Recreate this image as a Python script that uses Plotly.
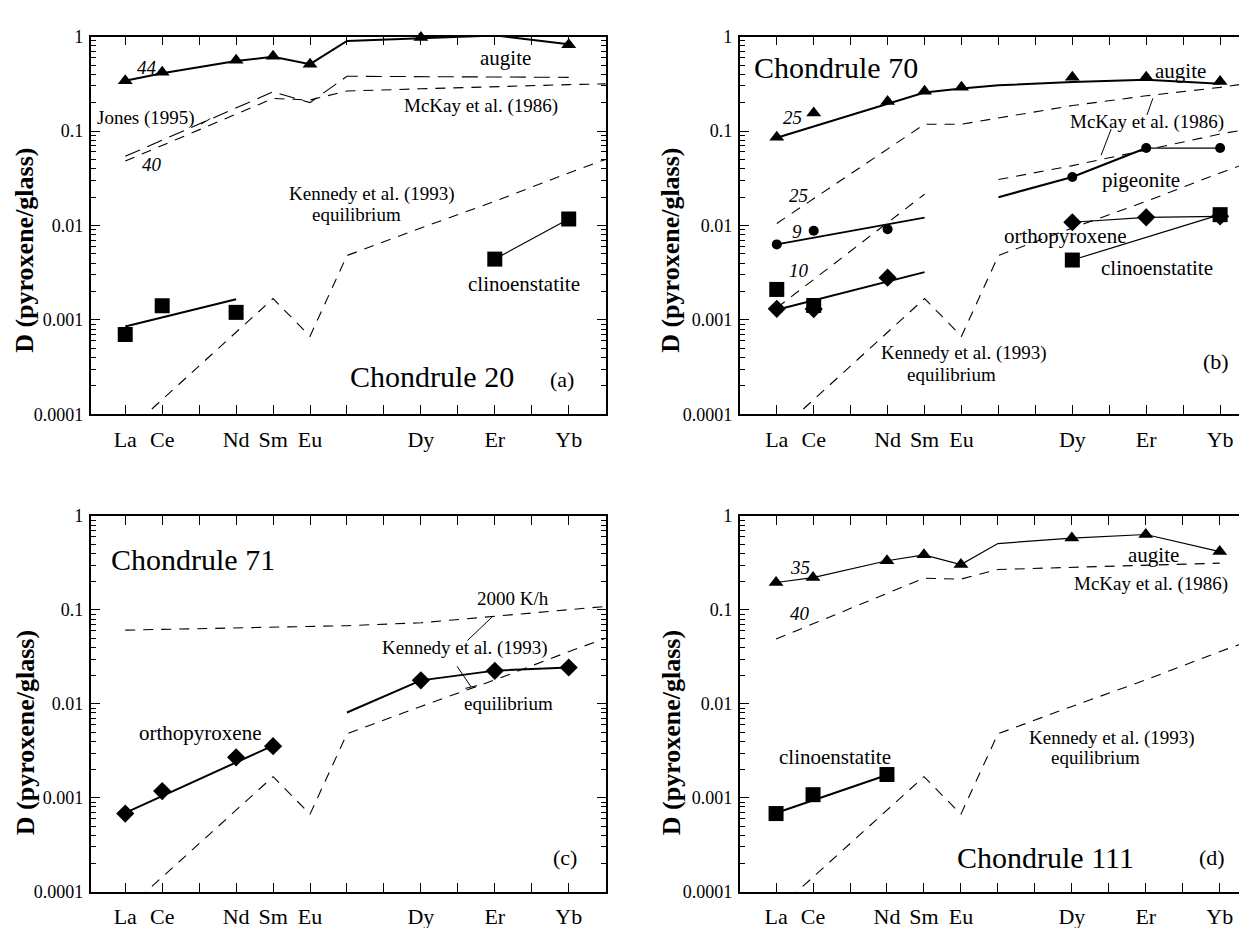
import numpy as np
import plotly.graph_objects as go

# ---------------- data ----------------
ree = ["La", "Ce", "Pr", "Nd", "Sm", "Eu", "Gd", "Tb", "Dy", "Ho", "Er", "Tm", "Yb", "Lu"]
shown_labels = ["La", "Ce", "Nd", "Sm", "Eu", "Dy", "Er", "Yb"]
ytick_vals = [1e-4, 1e-3, 1e-2, 1e-1, 1]
ytick_text = ["0.0001", "0.001", "0.01", "0.1", "1"]

# Kennedy et al. (1993) equilibrium (all panels)
kennedy_el = ["La", "Sm", "Eu", "Gd", "Dy", "Er", "Yb", "Lu"]
kennedy_D = [6.3e-5, 1.68e-3, 6.7e-4, 4.8e-3, 9.4e-3, 0.018, 0.036, 0.05]

# Panel (a) Chondrule 20
a_aug_el = ["La", "Ce", "Nd", "Sm", "Eu", "Dy", "Er", "Yb"]
a_aug_D = [0.34, 0.42, 0.56, 0.62, 0.51, 0.98, 1.07, 0.82]
a_augfit_el = ["La", "Ce", "Nd", "Sm", "Eu", "Gd", "Dy", "Er", "Yb"]
a_augfit_D = [0.34, 0.41, 0.55, 0.61, 0.51, 0.90, 0.96, 1.03, 0.83]
a_jones_el = ["La", "Sm", "Eu", "Gd", "Yb"]
a_jones_D = [0.054, 0.26, 0.20, 0.38, 0.37]
a_mckay_el = ["La", "Sm", "Eu", "Gd", "Dy", "Er", "Yb", "Lu"]
a_mckay_D = [0.048, 0.221, 0.213, 0.265, 0.28, 0.297, 0.31, 0.316]
a_cen_el = ["La", "Ce", "Nd", "Er", "Yb"]
a_cen_D = [0.0007, 0.00141, 0.0012, 0.0044, 0.0117]
a_cenfit_el = ["La", "Nd"]
a_cenfit_D = [0.00085, 0.00165]
a_cenhree_el = ["Er", "Yb"]
a_cenhree_D = [0.0044, 0.0117]

# Panel (b) Chondrule 70
b_aug_el = ["La", "Ce", "Nd", "Sm", "Eu", "Dy", "Er", "Yb"]
b_aug_D = [0.0857, 0.155, 0.205, 0.264, 0.29, 0.37, 0.37, 0.335]
b_augfit_el = ["La", "Nd", "Sm", "Eu", "Gd", "Dy", "Er", "Yb"]
b_augfit_D = [0.085, 0.197, 0.256, 0.282, 0.305, 0.33, 0.349, 0.317]
b_mckay1_el = ["La", "Sm", "Eu", "Gd", "Dy", "Er", "Yb", "Lu"]
b_mckay1_D = [0.0105, 0.118, 0.118, 0.138, 0.186, 0.236, 0.29, 0.33]
b_mckay2l_el = ["La", "Sm"]
b_mckay2l_D = [0.00134, 0.0214]
b_mckay2r_el = ["Gd", "Dy", "Er", "Yb", "Lu"]
b_mckay2r_D = [0.0306, 0.043, 0.063, 0.093, 0.109]
b_pig_el = ["La", "Ce", "Nd", "Dy", "Er", "Yb"]
b_pig_D = [0.0063, 0.0088, 0.0091, 0.0326, 0.066, 0.066]
b_pigfit_l_el = ["La", "Sm"]
b_pigfit_l_D = [0.0063, 0.0121]
b_pigfit_r_el = ["Gd", "Dy", "Er"]
b_pigfit_r_D = [0.0199, 0.0326, 0.066]
b_pighree_el = ["Er", "Yb"]
b_pighree_D = [0.066, 0.066]
b_opx_el = ["La", "Ce", "Nd", "Dy", "Er", "Yb"]
b_opx_D = [0.00131, 0.0013, 0.0028, 0.0108, 0.0122, 0.0125]
b_opxfit_el = ["La", "Sm"]
b_opxfit_D = [0.00128, 0.0032]
b_opxhree_el = ["Dy", "Er", "Yb"]
b_opxhree_D = [0.0108, 0.0122, 0.0125]
b_cen_el = ["La", "Ce", "Dy", "Yb"]
b_cen_D = [0.0021, 0.00142, 0.0043, 0.013]
b_cenhree_el = ["Dy", "Yb"]
b_cenhree_D = [0.0043, 0.013]

# Panel (c) Chondrule 71
c_opx_el = ["La", "Ce", "Nd", "Sm", "Dy", "Er", "Yb"]
c_opx_D = [0.00068, 0.00118, 0.0027, 0.00355, 0.0178, 0.0225, 0.0244]
c_opxfit_l_el = ["La", "Sm"]
c_opxfit_l_D = [0.00069, 0.0036]
c_opxfit_r_el = ["Gd", "Dy", "Er", "Yb"]
c_opxfit_r_D = [0.0081, 0.0178, 0.0226, 0.0244]
c_2000_el = ["La", "Nd", "Eu", "Gd", "Dy", "Er", "Yb", "Lu"]
c_2000_D = [0.061, 0.064, 0.066, 0.068, 0.073, 0.086, 0.1, 0.109]

# Panel (d) Chondrule 111
d_aug_el = ["La", "Ce", "Nd", "Sm", "Eu", "Dy", "Er", "Yb"]
d_aug_D = [0.196, 0.221, 0.334, 0.386, 0.304, 0.583, 0.636, 0.418]
d_augfit_el = ["La", "Ce", "Nd", "Sm", "Eu", "Gd", "Dy", "Er", "Yb"]
d_augfit_D = [0.196, 0.221, 0.334, 0.386, 0.304, 0.509, 0.583, 0.636, 0.418]
d_mckay_el = ["La", "Sm", "Eu", "Gd", "Yb"]
d_mckay_D = [0.049, 0.218, 0.213, 0.27, 0.315]
d_cen_el = ["La", "Ce", "Nd"]
d_cen_D = [0.00068, 0.00108, 0.00177]
d_cenfit_el = ["La", "Nd"]
d_cenfit_D = [0.00069, 0.00175]

# ---------------- figure ----------------
W, H = 1247, 928
FONT = "Liberation Serif"
fig = go.Figure()


def X(els):
    return [ree.index(e) for e in els]


def ax_ids(p):
    return ("x" if p == 1 else f"x{p}"), ("y" if p == 1 else f"y{p}")


def line(p, els, vals, width=2.0, dash=None):
    xa, ya = ax_ids(p)
    fig.add_trace(go.Scatter(x=X(els), y=vals, mode="lines",
                             line=dict(color="black", width=width, dash=dash),
                             xaxis=xa, yaxis=ya, showlegend=False, hoverinfo="skip"))


def marks(p, els, vals, symbol, size):
    xa, ya = ax_ids(p)
    fig.add_trace(go.Scatter(x=X(els), y=vals, mode="markers",
                             marker=dict(color="black", symbol=symbol, size=size),
                             cliponaxis=False,
                             xaxis=xa, yaxis=ya, showlegend=False, hoverinfo="skip"))


def seg(p, x0, d0, x1, d1, width=1.0):
    xa, ya = ax_ids(p)
    fig.add_trace(go.Scatter(x=[x0, x1], y=[d0, d1], mode="lines",
                             line=dict(color="black", width=width),
                             xaxis=xa, yaxis=ya, showlegend=False, hoverinfo="skip"))


annotations = []


def label(p, x, d, text, size=17, anchor="center"):
    xa, ya = ax_ids(p)
    annotations.append(dict(x=x, y=np.log10(d), xref=xa, yref=ya, text=text,
                            showarrow=False, xanchor=anchor, yanchor="middle",
                            font=dict(family=FONT, size=size, color="black")))


DASH = "10px,8px"
LDASH = "16px,8px"
TRI, SQ, CIR, DIA = 13, 15, 10, 14
BIG, MID, SMALL, NUM, PAN = 30, 21, 19, 19, 22

for p in (1, 2, 3, 4):
    line(p, kennedy_el, kennedy_D, 1.1, DASH)

# (a)
line(1, a_jones_el, a_jones_D, 1.1, LDASH)
line(1, a_mckay_el, a_mckay_D, 1.1, DASH)
line(1, a_augfit_el, a_augfit_D, 2.0)
marks(1, a_aug_el, a_aug_D, "triangle-up", TRI)
line(1, a_cenfit_el, a_cenfit_D, 2.0)
line(1, a_cenhree_el, a_cenhree_D, 1.2)
marks(1, a_cen_el, a_cen_D, "square", SQ)
seg(1, 2.05, 0.118, 2.3, 0.135)

# (b)
line(2, b_mckay1_el, b_mckay1_D, 1.1, DASH)
line(2, b_mckay2l_el, b_mckay2l_D, 1.1, DASH)
line(2, b_mckay2r_el, b_mckay2r_D, 1.1, DASH)
line(2, b_augfit_el, b_augfit_D, 2.0)
marks(2, b_aug_el, b_aug_D, "triangle-up", TRI)
line(2, b_pigfit_l_el, b_pigfit_l_D, 2.0)
line(2, b_pigfit_r_el, b_pigfit_r_D, 2.0)
line(2, b_pighree_el, b_pighree_D, 1.2)
marks(2, b_pig_el, b_pig_D, "circle", CIR)
line(2, b_opxfit_el, b_opxfit_D, 2.0)
line(2, b_opxhree_el, b_opxhree_D, 1.2)
marks(2, b_opx_el, b_opx_D, "diamond", DIA)
line(2, b_cenhree_el, b_cenhree_D, 1.2)
marks(2, b_cen_el, b_cen_D, "square", SQ)
seg(2, 10.02, 10 ** -0.83, 10.18, 10 ** -0.654)
seg(2, 9.05, 10 ** -0.98, 8.78, 10 ** -1.256)

# (c)
line(3, c_2000_el, c_2000_D, 1.1, DASH)
line(3, c_opxfit_l_el, c_opxfit_l_D, 2.0)
line(3, c_opxfit_r_el, c_opxfit_r_D, 2.0)
marks(3, c_opx_el, c_opx_D, "diamond", DIA)
seg(3, 9.26, 10 ** -1.325, 9.95, 10 ** -1.066)
seg(3, 8.98, 10 ** -1.60, 9.36, 10 ** -1.82)
seg(3, 9.2, 10 ** -1.835, 9.52, 10 ** -1.805)

# (d)
line(4, d_mckay_el, d_mckay_D, 1.1, DASH)
line(4, d_augfit_el, d_augfit_D, 1.2)
marks(4, d_aug_el, d_aug_D, "triangle-up", TRI)
line(4, d_cenfit_el, d_cenfit_D, 2.0)
marks(4, d_cen_el, d_cen_D, "square", SQ)

# ---------------- labels ----------------
label(1, 0.59, 10 ** -0.33, "<i>44</i>", NUM)
label(1, 0.72, 10 ** -1.35, "<i>40</i>", NUM)
label(1, 10.29, 10 ** -0.23, "augite", MID)
label(1, 9.63, 10 ** -0.734, "McKay et al. (1986)", SMALL)
label(1, 0.55, 10 ** -0.86, "Jones (1995)", SMALL)
label(1, 6.68, 10 ** -1.672, "Kennedy et al. (1993)", SMALL)
label(1, 6.26, 10 ** -1.879, "equilibrium", SMALL)
label(1, 10.8, 10 ** -2.62, "clinoenstatite", MID)
label(1, 8.31, 10 ** -3.6, "Chondrule 20", BIG)
label(1, 11.82, 10 ** -3.63, "(a)", PAN)

label(2, -0.68, 10 ** -0.33, "Chondrule 70", BIG, "left")
label(2, 10.94, 10 ** -0.36, "augite", MID)
label(2, 10.02, 10 ** -0.90, "McKay et al. (1986)", SMALL)
label(2, 9.86, 10 ** -1.515, "pigeonite", MID)
label(2, 7.81, 10 ** -2.117, "orthopyroxene", MID)
label(2, 10.29, 10 ** -2.45, "clinoenstatite", MID)
label(2, 5.06, 10 ** -3.356, "Kennedy et al. (1993)", SMALL)
label(2, 4.74, 10 ** -3.58, "equilibrium", SMALL)
label(2, 11.9, 10 ** -3.44, "(b)", PAN)
label(2, 0.43, 10 ** -0.86, "<i>25</i>", NUM)
label(2, 0.59, 10 ** -1.687, "<i>25</i>", NUM)
label(2, 0.54, 10 ** -2.065, "<i>9</i>", NUM)
label(2, 0.59, 10 ** -2.478, "<i>10</i>", NUM)

label(3, -0.43, 10 ** -0.46, "Chondrule 71", BIG, "left")
label(3, 10.48, 10 ** -0.875, "2000 K/h", SMALL)
label(3, 9.2, 10 ** -1.405, "Kennedy et al. (1993)", SMALL)
label(3, 10.37, 10 ** -1.993, "equilibrium", SMALL)
label(3, 2.03, 10 ** -2.31, "orthopyroxene", MID)
label(3, 11.9, 10 ** -3.63, "(c)", PAN)

label(4, 0.65, 10 ** -0.552, "<i>35</i>", NUM)
label(4, 0.65, 10 ** -1.034, "<i>40</i>", NUM)
label(4, 10.22, 10 ** -0.42, "augite", MID)
label(4, 10.14, 10 ** -0.724, "McKay et al. (1986)", SMALL)
label(4, 9.08, 10 ** -2.362, "Kennedy et al. (1993)", SMALL)
label(4, 8.65, 10 ** -2.569, "equilibrium", SMALL)
label(4, 1.59, 10 ** -2.569, "clinoenstatite", MID)
label(4, 7.29, 10 ** -3.638, "Chondrule 111", BIG)
label(4, 11.78, 10 ** -3.638, "(d)", PAN)

# y-axis titles
for xp, yp in [(17, 237), (664, 237), (17, 730), (664, 730)]:
    annotations.append(dict(x=xp / W, y=1 - yp / H, xref="paper", yref="paper",
                            text="<b>D (pyroxene/glass)</b>", textangle=-90,
                            showarrow=False, xanchor="center", yanchor="middle",
                            font=dict(family=FONT, size=26, color="black")))

# ---------------- axes ----------------
minor_vals = [m * 10.0 ** k for k in range(-4, 0) for m in range(2, 10)]
xt_text = [e if e in shown_labels else "" for e in ree[:13]]


def xaxis(dom, rng, anchor):
    return dict(domain=dom, range=rng, anchor=anchor, tickmode="array",
                tickvals=list(range(13)), ticktext=xt_text, ticks="inside",
                ticklen=9, tickwidth=1.2, tickcolor="black", showline=True,
                linewidth=1.8, linecolor="black", mirror="ticks", showgrid=False,
                zeroline=False, ticklabelstandoff=4,
                tickfont=dict(family=FONT, size=22, color="black"))


def yaxis(dom, anchor):
    return dict(domain=dom, type="log", range=[-4, 0], anchor=anchor,
                tickmode="array", tickvals=ytick_vals, ticktext=ytick_text,
                ticks="inside", ticklen=9, tickwidth=1.2, tickcolor="black",
                minor=dict(tickmode="array", tickvals=minor_vals, ticks="inside",
                           ticklen=5, tickwidth=1, tickcolor="black", showgrid=False),
                showline=True, linewidth=1.8, linecolor="black", mirror="ticks",
                showgrid=False, zeroline=False, ticklabelstandoff=2,
                tickfont=dict(family=FONT, size=18, color="black"))


def dxp(a, b):
    return [a / W, b / W]


def dyp(t, b):
    return [1 - b / H, 1 - t / H]


fig.update_layout(
    width=W, height=H, margin=dict(l=0, r=0, t=0, b=0),
    paper_bgcolor="white", plot_bgcolor="white", showlegend=False,
    xaxis=xaxis(dxp(83, 599), [-0.93, 13.01], "y"),
    yaxis=yaxis(dyp(19, 405), "x"),
    xaxis2=xaxis(dxp(733, 1247), [-1.0, 12.89], "y2"),
    yaxis2=yaxis(dyp(19, 405), "x2"),
    xaxis3=xaxis(dxp(83, 599), [-0.93, 13.01], "y3"),
    yaxis3=yaxis(dyp(509, 893), "x3"),
    xaxis4=xaxis(dxp(733, 1247), [-0.98, 12.9], "y4"),
    yaxis4=yaxis(dyp(509, 893), "x4"),
    annotations=annotations,
)

fig.write_html("out.html")
